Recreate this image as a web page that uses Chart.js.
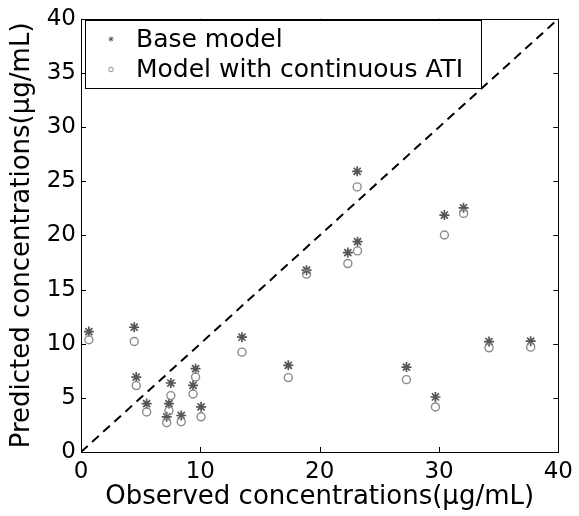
<!DOCTYPE html>
<html>
<head>
<meta charset="utf-8">
<script src="https://cdn.jsdelivr.net/npm/chart.js@4/dist/chart.umd.min.js"></script>
<style>
html,body{margin:0;padding:0;background:#fff;}
canvas{display:block;}
</style>
</head>
<body>
<canvas id="c" width="579" height="516"></canvas>
<script>
const observed   = [0.66, 4.46, 4.63, 5.5, 7.37, 7.53, 7.18, 8.4, 9.39, 9.6, 10.06, 13.49, 17.37, 18.9, 22.36, 23.14, 23.17, 27.27, 29.7, 30.45, 32.06, 34.19, 37.68];
const baseModel  = [11.12, 11.52, 6.92, 4.47, 4.47, 6.37, 3.25, 3.37, 6.16, 7.69, 4.17, 10.6, 8.0, 16.79, 18.41, 25.92, 19.42, 7.84, 5.08, 21.88, 22.55, 10.2, 10.23];
const contModel  = [10.36, 10.2, 6.13, 3.7, 3.8, 5.21, 2.7, 2.79, 5.36, 6.92, 3.25, 9.22, 6.87, 16.42, 17.4, 24.48, 18.57, 6.68, 4.16, 20.04, 22.03, 9.62, 9.68];
const identityLine = [0, 40];
const xTicks = [0, 10, 20, 30, 40];
const yTicks = [0, 5, 10, 15, 20, 25, 30, 35, 40];
const seriesNames = ['Base model', 'Model with continuous ATI'];
const xTitle = 'Observed concentrations(μg/mL)';
const yTitle = 'Predicted concentrations(μg/mL)';

const FONT = 'DejaVu Sans';
const STAR_COLOR = '#555555';
const CIRC_COLOR = '#8a8a8a';

const framePlugin = {
  id: 'frame',
  afterDraw(chart) {
    const ctx = chart.ctx, a = chart.chartArea;
    const xs = chart.scales.x, ys = chart.scales.y;
    ctx.save();
    ctx.strokeStyle = '#000';
    ctx.lineWidth = 1;
    ctx.strokeRect(Math.round(a.left) + 0.5, Math.round(a.top) + 0.5, Math.round(a.right - a.left), Math.round(a.bottom - a.top));
    const tl = 5;
    ctx.beginPath();
    xs.ticks.forEach(t => {
      const px = Math.round(xs.getPixelForValue(t.value)) + 0.5;
      ctx.moveTo(px, a.bottom); ctx.lineTo(px, a.bottom - tl);
      ctx.moveTo(px, a.top); ctx.lineTo(px, a.top + tl);
    });
    ys.ticks.forEach(t => {
      const py = Math.round(ys.getPixelForValue(t.value)) + 0.5;
      ctx.moveTo(a.left, py); ctx.lineTo(a.left + tl, py);
      ctx.moveTo(a.right, py); ctx.lineTo(a.right - tl, py);
    });
    ctx.stroke();

    // legend box
    const lx = 85.5, ly = 20.5, lw = 396, lh = 68;
    ctx.fillStyle = '#fff';
    ctx.fillRect(lx, ly, lw, lh);
    ctx.strokeRect(lx, ly, lw, lh);
    ctx.font = '25px "' + FONT + '"';
    ctx.fillStyle = '#000';
    ctx.textBaseline = 'alphabetic';
    ctx.textAlign = 'left';
    ctx.fillText(chart.data.datasets[0].label, 136, 47);
    ctx.fillText(chart.data.datasets[1].label, 136, 77);
    // legend markers
    const mx = 111, r = 2.5;
    ctx.strokeStyle = STAR_COLOR;
    ctx.lineWidth = 1;
    ctx.beginPath();
    const sy = 39;
    ctx.moveTo(mx - r, sy); ctx.lineTo(mx + r, sy);
    ctx.moveTo(mx, sy - r); ctx.lineTo(mx, sy + r);
    ctx.moveTo(mx - r * 0.7, sy - r * 0.7); ctx.lineTo(mx + r * 0.7, sy + r * 0.7);
    ctx.moveTo(mx - r * 0.7, sy + r * 0.7); ctx.lineTo(mx + r * 0.7, sy - r * 0.7);
    ctx.stroke();
    ctx.strokeStyle = CIRC_COLOR;
    ctx.beginPath();
    ctx.arc(mx, 69.5, 2.3, 0, Math.PI * 2);
    ctx.stroke();
    ctx.restore();
  }
};

new Chart(document.getElementById('c'), {
  type: 'scatter',
  data: {
    datasets: [
      {
        label: seriesNames[0],
        data: observed.map((x, i) => ({x: x, y: baseModel[i]})),
        pointStyle: 'star',
        pointRadius: 5,
        borderColor: STAR_COLOR,
        backgroundColor: STAR_COLOR,
        borderWidth: 1.7,
        order: 2
      },
      {
        label: seriesNames[1],
        data: observed.map((x, i) => ({x: x, y: contModel[i]})),
        pointStyle: 'circle',
        pointRadius: 4,
        borderColor: CIRC_COLOR,
        backgroundColor: 'rgba(0,0,0,0)',
        borderWidth: 1.4,
        order: 1
      },
      {
        type: 'line',
        label: 'identity',
        data: identityLine.map(v => ({x: v, y: v})),
        borderColor: '#000',
        borderWidth: 2,
        borderDash: [9, 6],
        pointRadius: 0,
        fill: false,
        order: 0
      }
    ]
  },
  options: {
    responsive: false,
    animation: false,
    events: [],
    layout: { padding: { top: 18, right: 17, left: 0, bottom: 0 } },
    plugins: { legend: { display: false }, tooltip: { enabled: false } },
    scales: {
      x: {
        type: 'linear', min: 0, max: 40,
        afterBuildTicks(s) { s.ticks = xTicks.map(v => ({value: v})); },
        afterFit(s) { s.height = 64; },
        grid: { display: false, drawTicks: false },
        border: { display: false },
        ticks: { color: '#000', font: { family: FONT, size: 23 }, padding: 6, maxRotation: 0 },
        title: { display: true, text: xTitle, color: '#000', font: { family: FONT, size: 26 }, padding: { top: 0, bottom: 3 } }
      },
      y: {
        type: 'linear', min: 0, max: 40,
        afterBuildTicks(s) { s.ticks = yTicks.map(v => ({value: v})); },
        afterFit(s) { s.width = 81; },
        grid: { display: false, drawTicks: false },
        border: { display: false },
        ticks: { color: '#000', font: { family: FONT, size: 23 }, padding: 5 },
        title: { display: true, text: yTitle, color: '#000', font: { family: FONT, size: 26 }, padding: { top: 7, bottom: 0 } }
      }
    }
  },
  plugins: [framePlugin]
});
</script>
</body>
</html>
